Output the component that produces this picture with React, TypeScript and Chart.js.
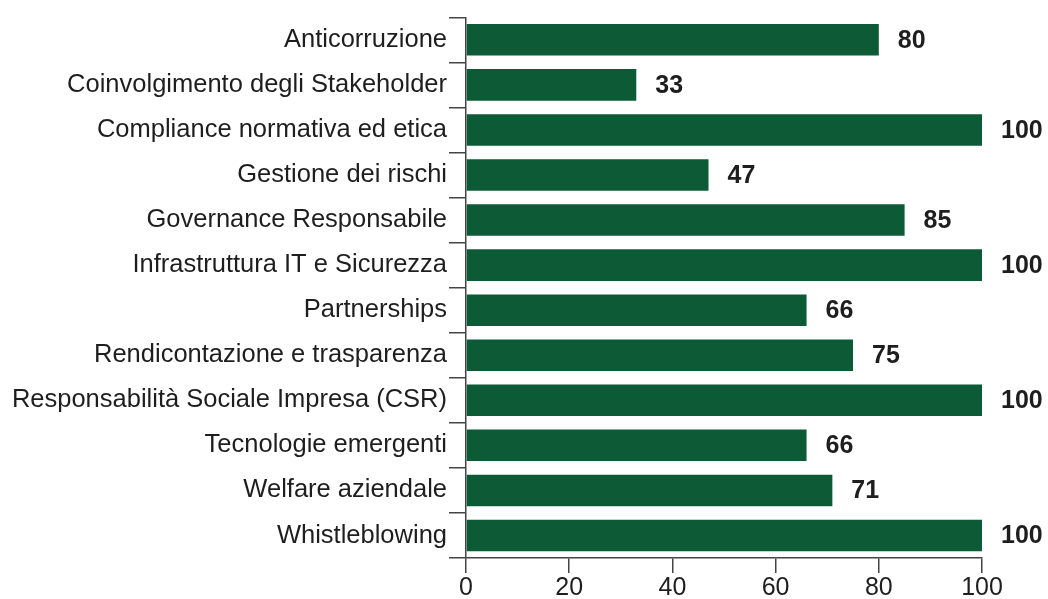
import React, { useEffect, useRef } from "react";
import { Chart, registerables } from "chart.js";

Chart.register(...registerables);

const categories = [
  "Anticorruzione",
  "Coinvolgimento degli Stakeholder",
  "Compliance normativa ed etica",
  "Gestione dei rischi",
  "Governance Responsabile",
  "Infrastruttura IT e Sicurezza",
  "Partnerships",
  "Rendicontazione e trasparenza",
  "Responsabilità Sociale Impresa (CSR)",
  "Tecnologie emergenti",
  "Welfare aziendale",
  "Whistleblowing",
];
const values = [80, 33, 100, 47, 85, 100, 66, 75, 100, 66, 71, 100];
const xTicks = [0, 20, 40, 60, 80, 100];

const FONT = "'Liberation Sans', Arial, sans-serif";

const valueLabels = {
  id: "valueLabels",
  afterDatasetsDraw(chart: any) {
    const ctx = chart.ctx;
    const meta = chart.getDatasetMeta(0);
    ctx.save();
    ctx.font = `bold 25px ${FONT}`;
    ctx.fillStyle = "#1e1e1e";
    ctx.textAlign = "left";
    ctx.textBaseline = "middle";
    meta.data.forEach((bar: any, i: number) => {
      const v = chart.data.datasets[0].data[i];
      ctx.fillText(String(v), bar.x + 19, bar.y + 1);
    });
    ctx.restore();
  },
};

export default function App() {
  const ref = useRef<HTMLCanvasElement>(null);
  useEffect(() => {
    if (!ref.current) return;
    const chart = new Chart(ref.current, {
      type: "bar",
      data: {
        labels: categories,
        datasets: [
          {
            data: values,
            backgroundColor: "#0c5a36",
            borderWidth: 0,
            barPercentage: 0.7,
            categoryPercentage: 1,
          },
        ],
      },
      options: {
        indexAxis: "y",
        animation: false,
        responsive: false,
        maintainAspectRatio: false,
        layout: { padding: { left: 0, right: 66, top: 14, bottom: 0 } },
        plugins: { legend: { display: false }, tooltip: { enabled: false } },
        scales: {
          x: {
            min: 0,
            max: 100,
            afterBuildTicks: (s: any) => {
              s.ticks = xTicks.map((v) => ({ value: v }));
            },
            afterFit: (s: any) => {
              s.height = 41;
            },
            grid: {
              drawOnChartArea: false,
              drawTicks: true,
              tickLength: 15,
              color: "#444444",
              lineWidth: 1.5,
            },
            border: { display: true, color: "#444444", width: 1.5 },
            ticks: {
              color: "#1e1e1e",
              padding: 0,
              font: { family: FONT, size: 25 },
            },
          },
          y: {
            afterFit: (s: any) => {
              s.width = 466;
            },
            grid: {
              offset: true,
              drawOnChartArea: false,
              drawTicks: true,
              tickLength: 17,
              color: "#444444",
              lineWidth: 1.5,
            },
            border: { display: true, color: "#444444", width: 1.5 },
            ticks: {
              color: "#1e1e1e",
              padding: 2,
              font: { family: FONT, size: 25.5 },
            },
          },
        },
      },
      plugins: [valueLabels],
    });
    return () => chart.destroy();
  }, []);
  return (
    <div style={{ position: "absolute", left: 0, top: 0, width: 1048, height: 599, background: "#fff" }}>
      <canvas ref={ref} width={1048} height={599} style={{ width: 1048, height: 599 }} />
    </div>
  );
}
